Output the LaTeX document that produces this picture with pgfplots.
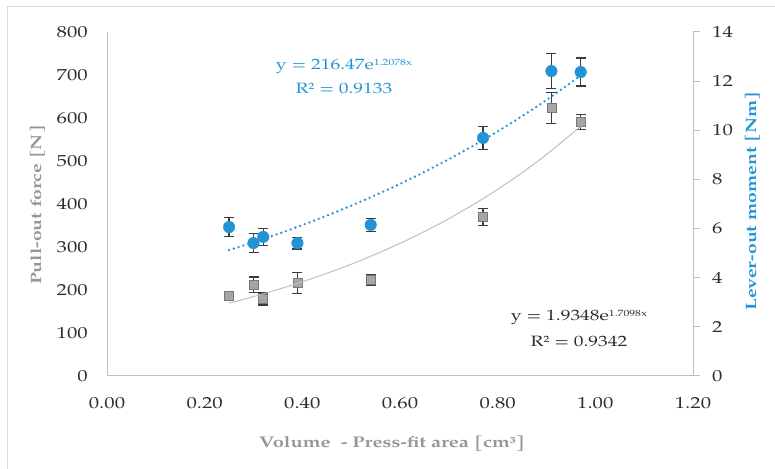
\documentclass[border=0pt]{standalone}
\usepackage{pgfplots}
\pgfplotsset{compat=1.18}
\usepackage{pgfplotstable}
\usepackage{fontspec}
\setmainfont{TeX Gyre Pagella}[FakeStretch=1.3]

\definecolor{ptblue}{RGB}{34,148,214}
\definecolor{sqfill}{RGB}{166,166,166}
\definecolor{sqdraw}{RGB}{120,120,120}
\definecolor{errc}{RGB}{60,60,60}
\definecolor{axisgray}{RGB}{191,191,191}
\definecolor{framegray}{RGB}{217,217,217}
\definecolor{labgray}{RGB}{150,150,150}
\definecolor{tickc}{RGB}{45,45,45}

% x [cm^3], pull-out force [N], error [N]
\pgfplotstableread{
x     y    e
0.25  187  0
0.30  212  18
0.32  179  14
0.39  216  24
0.54  223  13
0.77  370  20
0.91  623  36
0.97  591  18
}\pullout
% x [cm^3], lever-out moment [Nm], error [Nm]
\pgfplotstableread{
x     y      e
0.25  6.06   0.38
0.30  5.41   0.40
0.32  5.66   0.35
0.39  5.41   0.24
0.54  6.15   0.26
0.77  9.69   0.47
0.91  12.41  0.70
0.97  12.37  0.57
}\leverout

\pgfplotsset{
  common/.style={
    scale only axis, width=586bp, height=344bp,
    at={(107bp,93bp)}, anchor=south west,
    xmin=0, xmax=1.2,
    /pgf/number format/assume math mode=true,
    ticklabel style={font=\fontsize{16}{18}\selectfont, text=tickc},
    axis line style={draw=axisgray, line width=1bp},
    clip=false,
  },
  errs/.style={
    error bars/.cd, y dir=both, y explicit,
    error bar style={draw=errc, line width=1.2bp},
    error mark options={draw=errc, rotate=90, mark size=5bp, line width=1.2bp},
  },
}

\begin{document}
\begin{tikzpicture}
\useasboundingbox (0,0) rectangle (775bp,469bp);
\draw[framegray, line width=1bp] (7bp,0) -- (7bp,462bp) -- (775bp,462bp);

% left axis: pull-out force
\begin{axis}[common,
  ymin=0, ymax=800, ytick={0,100,...,800},
  xtick={0,0.2,...,1.2},
  xticklabel={\pgfmathprintnumber[fixed,fixed zerofill,precision=2]{\tick}},
  axis y line*=left, axis x line*=bottom,
  major tick length=0pt,
  yticklabel style={anchor=east, inner sep=0pt, xshift=-19bp},
  xticklabel style={anchor=north, inner sep=0pt, yshift=-21bp},
]
% exponential fit of the moment, 216.47 e^{1.2078x}
\addplot[ptblue, line width=2.6bp, line cap=round, dash pattern=on 0pt off 5bp, smooth] coordinates {
 (0.25,292.77) (0.30,311.00) (0.35,330.36) (0.40,350.93) (0.45,372.77)
 (0.50,395.98) (0.55,420.63) (0.60,446.81) (0.65,474.62) (0.70,504.17)
 (0.75,535.55) (0.80,568.90) (0.85,604.31) (0.90,641.93) (0.97,698.56)};
\addplot[only marks, mark=square*, mark size=4.5bp,
  mark options={fill=sqfill, draw=sqdraw, line width=0.6bp}, errs]
  table[x=x, y=y, y error=e] {\pullout};
\end{axis}

% right axis: lever-out moment
\begin{axis}[common,
  ymin=0, ymax=14, ytick={0,2,...,14},
  axis y line*=right, axis x line=none,
  ytick style={draw=axisgray, line width=1bp},
  major tick length=7bp, tick align=outside,
  yticklabel style={anchor=west, inner sep=0pt, xshift=12bp},
]
% exponential fit of the force, 1.9348 e^{1.7098x}
\addplot[axisgray, line width=1bp, smooth] coordinates {
 (0.25,2.9667) (0.30,3.2315) (0.35,3.5199) (0.40,3.8341) (0.45,4.1763)
 (0.50,4.5490) (0.55,4.9550) (0.60,5.3972) (0.65,5.8789) (0.70,6.4036)
 (0.75,6.9752) (0.80,7.5977) (0.85,8.2757) (0.90,9.0144) (0.97,10.1605)};
\addplot[only marks, mark=*, mark size=5.8bp,
  mark options={fill=ptblue, draw=ptblue}, errs]
  table[x=x, y=y, y error=e] {\leverout};
\end{axis}

% axis titles
\node[rotate=90, text=labgray, font=\fontsize{15}{18}\selectfont\bfseries]
  at (38bp,264bp) {Pull-out force [N]};
\node[rotate=90, text=ptblue, font=\fontsize{15}{18}\selectfont\bfseries]
  at (753bp,268bp) {Lever-out moment [Nm]};
\node[text=labgray, font=\fontsize{15.5}{18}\selectfont\bfseries]
  at (392bp,25bp) {Volume\ \ - Press-fit area [cm³]};

% fit equations
\node[text=ptblue, font=\fontsize{15}{18}\selectfont] at (344bp,403bp)
  {y = 216.47e\raisebox{0.5ex}{\fontsize{9}{10}\selectfont 1.2078x}};
\node[text=ptblue, font=\fontsize{15}{18}\selectfont] at (344bp,381bp)
  {R² = 0.9133};
\node[text=tickc, font=\fontsize{15}{18}\selectfont] at (579bp,152bp)
  {y = 1.9348e\raisebox{0.5ex}{\fontsize{9}{10}\selectfont 1.7098x}};
\node[text=tickc, font=\fontsize{15}{18}\selectfont] at (579bp,128bp)
  {R² = 0.9342};
\end{tikzpicture}
\end{document}
